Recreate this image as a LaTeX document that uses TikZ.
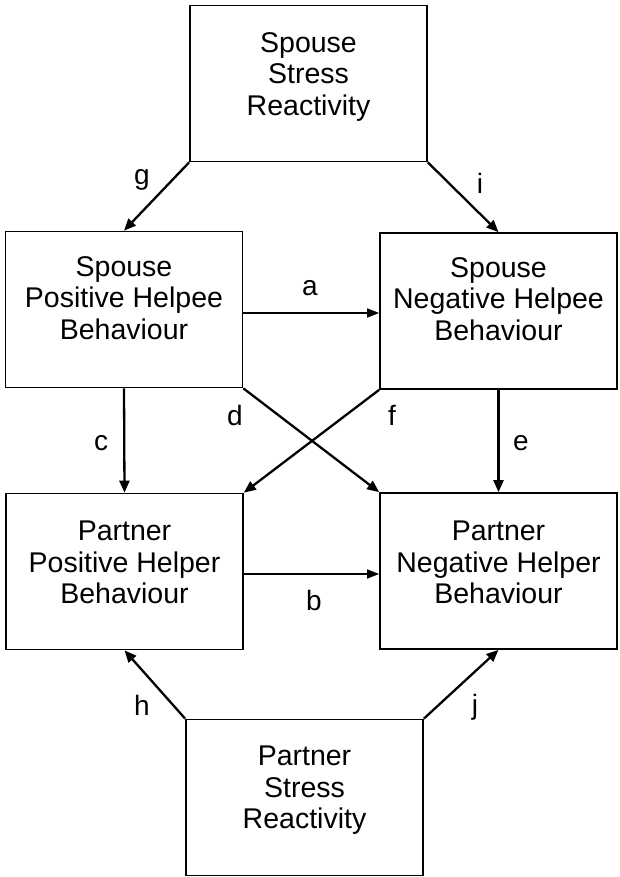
\documentclass[tikz,border=0pt]{standalone}
\usepackage{fontspec}
\setmainfont{Liberation Sans}
\usetikzlibrary{arrows.meta,calc}
\tikzset{
  box/.style={draw, line width=1.7pt, minimum width=237pt, minimum height=156pt, inner sep=0pt},
  boxtext/.style={align=center, inner sep=0pt, anchor=north, font=\fontsize{28.5}{31.5}\selectfont},
  lbl/.style={inner sep=0pt, font=\fontsize{28}{31}\selectfont},
  conn/.style={line width=2.3pt, -{Triangle[length=12pt,width=10pt]}},
  thinconn/.style={line width=1.4pt, -{Triangle[length=12pt,width=9pt]}}
}
\begin{document}
\begin{tikzpicture}[x=1pt,y=-1pt]
\useasboundingbox (0,0) rectangle (619,877);
\fill[white] (0,0) rectangle (619,877);
% boxes
\node[box] (top) at (308.5,83.5) {};
\node[box] (ml) at (124,309.5) {};
\node[box] (mr) at (498.5,311) {};
\node[box] (ll) at (124.5,571.5) {};
\node[box] (lr) at (498.5,571) {};
\node[box] (bot) at (304.5,797.5) {};
% box texts
\node[boxtext] (ttop) at (308.5,32) {Spouse\\Stress\\Reactivity};
\node[boxtext] (tml) at (124,256) {Spouse\\Positive Helpee\\Behaviour};
\node[boxtext] (tmr) at (498.5,257) {Spouse\\Negative Helpee\\Behaviour};
\node[boxtext] (tll) at (124.5,521) {Partner\\Positive Helper\\Behaviour};
\node[boxtext] (tlr) at (498.5,521) {Partner\\Negative Helper\\Behaviour};
\node[boxtext] (tbot) at (304.5,746) {Partner\\Stress\\Reactivity};
% connector end points
\coordinate (aS) at ($(ml.east)+(0,3.5)$);
\coordinate (bS) at ($(ll.east)+(0,2.5)$);
% connectors
\draw[conn] (top.south west) -- (ml.north);
\draw[conn] (top.south east) -- (mr.north);
\draw[thinconn] (aS) -- (aS -| mr.west);
\draw[conn] (ml.south) -- (ll.north);
\draw[conn] (mr.south) -- (lr.north);
\draw[conn] (ml.south east) -- (lr.north west);
\draw[conn] (mr.south west) -- (ll.north east);
\draw[thinconn] (bS) -- (bS -| lr.west);
\draw[conn] (bot.north west) -- (ll.south);
\draw[conn] (bot.north east) -- (lr.south);
% labels
\node[lbl] (lg) at (142,180) {g};
\node[lbl] (li) at (480,183) {i};
\node[lbl] (la) at (310,288) {a};
\node[lbl] (lc) at (101,443) {c};
\node[lbl] (ld) at (235,415) {d};
\node[lbl] (lf) at (392,415) {f};
\node[lbl] (le) at (521,443) {e};
\node[lbl] (lb) at (314,600) {b};
\node[lbl] (lh) at (142,705) {h};
\node[lbl] (lj) at (475,707) {j};
\end{tikzpicture}
\end{document}
